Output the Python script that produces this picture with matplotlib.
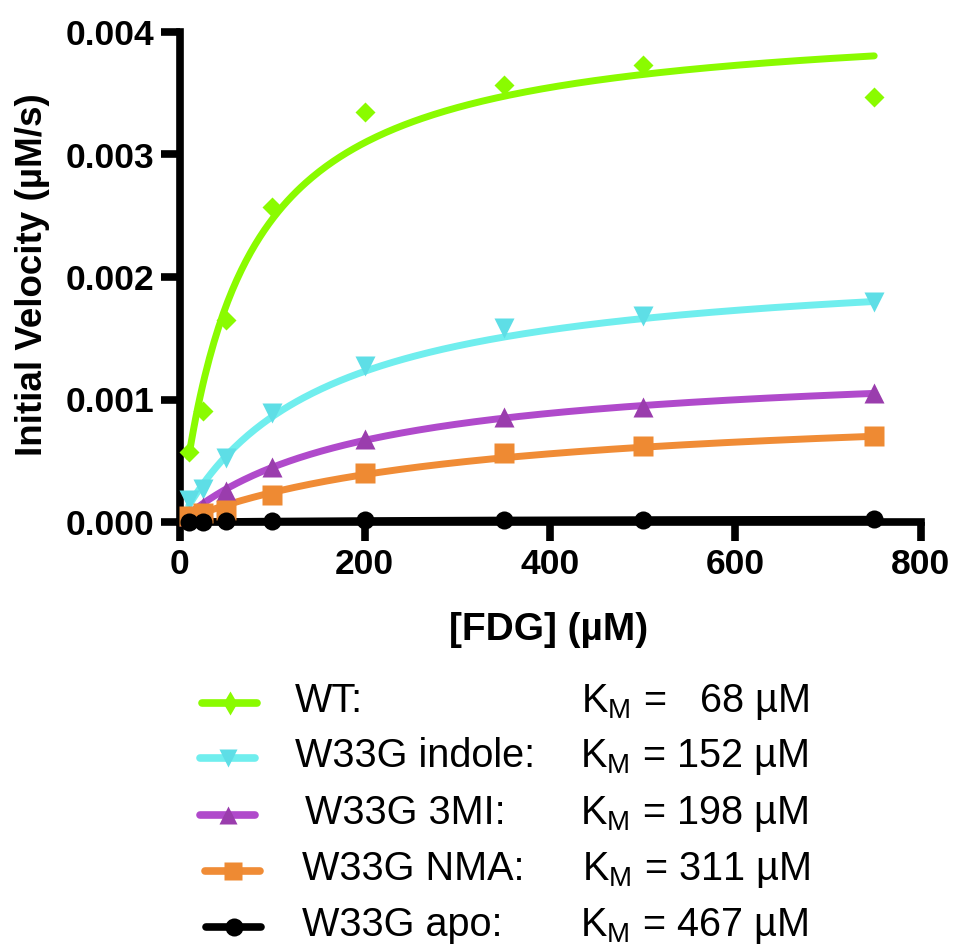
import numpy as np
import matplotlib
matplotlib.use("Agg")
import matplotlib.pyplot as plt
from matplotlib.lines import Line2D

plt.rcParams['font.family'] = ['Liberation Sans', 'DejaVu Sans']
plt.rcParams['font.weight'] = 'bold'
plt.rcParams['mathtext.fontset'] = 'custom'
plt.rcParams['mathtext.rm'] = 'Liberation Sans'

# ---------------- data ----------------
fdg = [10, 25, 50, 100, 200, 350, 500, 750]   # [FDG] (uM)

v_wt = [0.00057, 0.00091, 0.00165, 0.00257, 0.00335, 0.00357, 0.00373, 0.00347]
v_indole = [0.00018, 0.00027, 0.00052, 0.00089, 0.00127, 0.00158, 0.00168, 0.00180]
v_3mi = [0.00005, 0.00012, 0.00025, 0.00045, 0.00068, 0.00086, 0.00094, 0.00105]
v_nma = [0.00005, 0.00007, 0.00010, 0.00022, 0.00040, 0.00056, 0.00062, 0.00070]
v_apo = [0.000002, 0.000004, 0.000006, 0.00001, 0.000015, 0.000018, 0.00002, 0.000022]

names = ['WT:', 'W33G indole:', 'W33G 3MI:', 'W33G NMA:', 'W33G apo:']
km = [68, 152, 198, 311, 467]                      # fitted K_M (uM)
vmax = [0.00415, 0.002165, 0.001327, 0.00099, 0.000036]  # fitted Vmax (uM/s)
km_text = ['  68', '152', '198', '311', '467']

series = [v_wt, v_indole, v_3mi, v_nma, v_apo]

# styles
line_cols = ['#8AFB00', '#70EEEE', '#B04ACB', '#F08C36', '#000000']
mark_cols = ['#8AFB00', '#5EDEE6', '#9A3DAD', '#EE8A33', '#000000']
markers = ['D', 'v', '^', 's', 'o']
msizes = [10.2, 14.5, 14.5, 14.0, 13.0]
leg_markers = ['d', 'v', '^', 's', 'o']
leg_msizes = [12, 13.5, 13.5, 13, 13]

fig = plt.figure(figsize=(9.55, 9.49), dpi=100)
ax = fig.add_axes([179.5/955, 1-522/949, (920.5-179.5)/955, (522-32)/949])

xfit = np.linspace(10, 750, 300)
for i in range(len(series)):
    yfit = vmax[i]*xfit/(km[i] + xfit)
    ax.plot(xfit, yfit, color=line_cols[i], lw=5, solid_capstyle='round',
            zorder=3, clip_on=False)
for i in range(len(series)):
    ax.plot(fdg, series[i], linestyle='none', marker=markers[i],
            ms=msizes[i], color=mark_cols[i], mec='none', zorder=4, clip_on=False)

ax.set_xlim(0, 800)
ax.set_ylim(0, 0.004)
ax.set_xticks([0, 200, 400, 600, 800])
ax.set_yticks([0, 0.001, 0.002, 0.003, 0.004])
ax.yaxis.set_major_formatter(matplotlib.ticker.FormatStrFormatter('%.3f'))
for s in ['top', 'right']:
    ax.spines[s].set_visible(False)
for s in ['left', 'bottom']:
    ax.spines[s].set_linewidth(5.5)
ax.tick_params(direction='out', length=14, width=5.5, labelsize=25.5, pad=4)
ax.tick_params(axis='x', pad=5)

# overlay in pixel coordinates for labels and the legend
ov = fig.add_axes([0, 0, 1, 1], zorder=-1)
ov.set_xlim(0, 955)
ov.set_ylim(949, 0)
ov.axis('off')

ov.text(549, 640, '[FDG] (\u00b5M)', fontsize=28, fontweight='bold',
        ha='center', va='baseline')
ov.text(42, 275, 'Initial Velocity (\u00b5M/s)', fontsize=26.5, fontweight='bold',
        rotation=90, rotation_mode='anchor', ha='center', va='baseline')

# legend layout
row_base = [712, 767, 824, 880, 936]
handle_x = [(202, 257), (200, 255), (200, 255), (205, 260), (206, 261)]
name_x = [295, 295, 305, 302, 302]
k_x = [581, 580, 580, 582, 580]

for i in range(len(names)):
    hy = row_base[i] - 9
    x0, x1 = handle_x[i]
    ov.add_line(Line2D([x0, x1], [hy, hy], color=line_cols[i], lw=5.5,
                       solid_capstyle='round'))
    ov.plot([(x0+x1)/2], [hy], marker=leg_markers[i], ms=leg_msizes[i],
            color=mark_cols[i], mec='none')
    ov.text(name_x[i], row_base[i], names[i], fontsize=28.5, fontweight='normal',
            ha='left', va='baseline')
    ov.text(k_x[i], row_base[i], 'K$_\\mathregular{M}$ = ' + km_text[i] + ' \u00b5M',
            fontsize=28.5, fontweight='normal', ha='left', va='baseline')

fig.savefig('out.png', dpi=100)
